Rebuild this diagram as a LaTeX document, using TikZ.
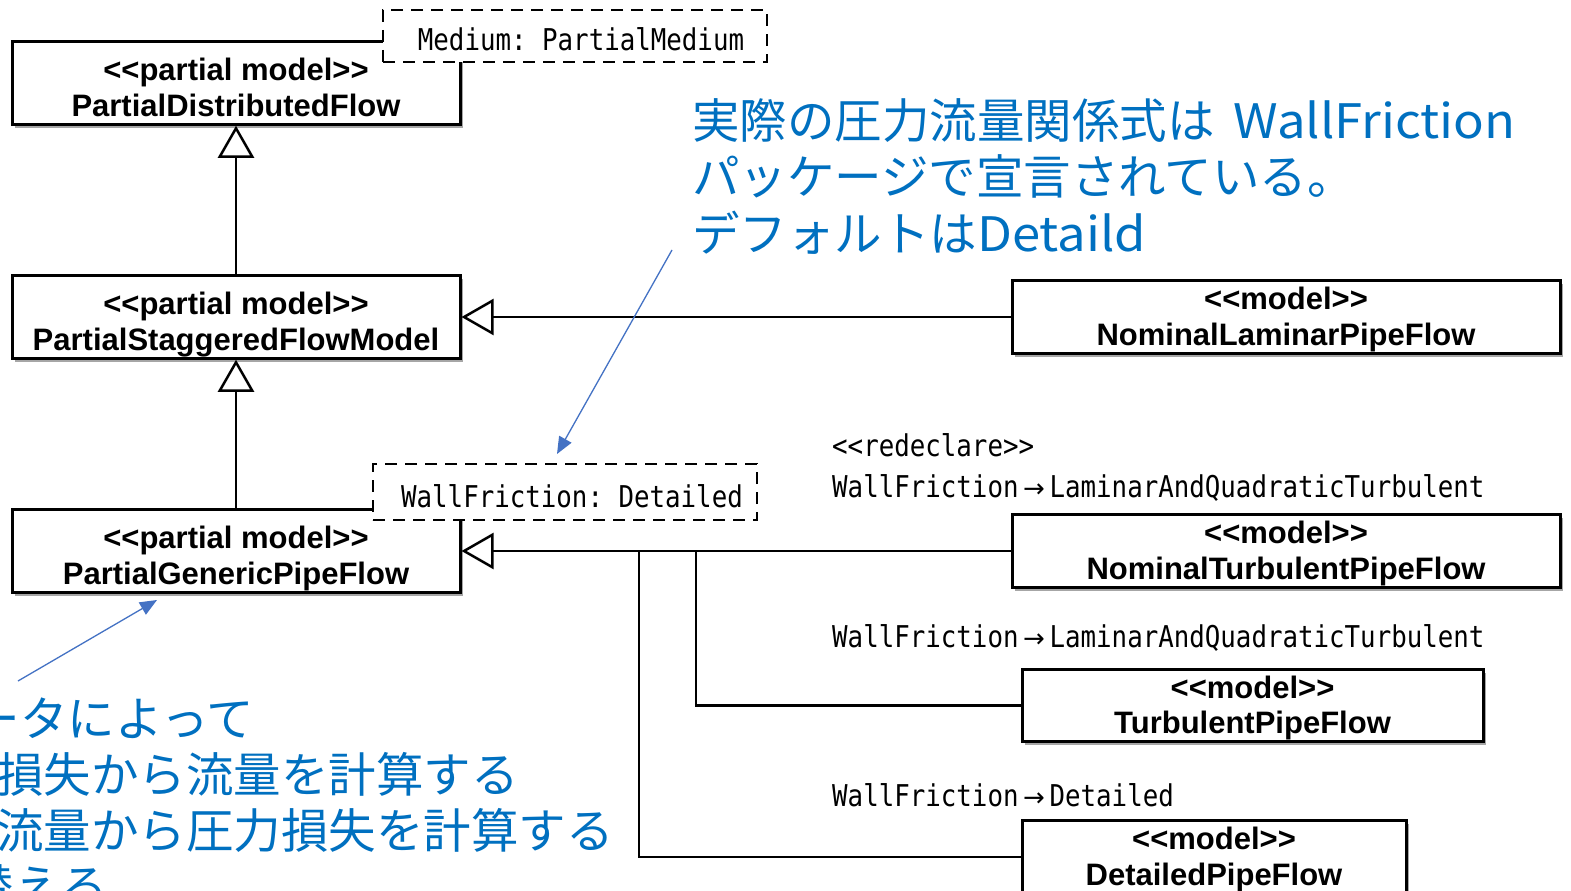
\documentclass[tikz,border=0pt]{standalone}
\usepackage{fontspec}
\setmainfont{Liberation Sans}
\newfontfamily\monofont[FakeStretch=0.86]{DejaVu Sans Mono}
\newfontfamily\arrowfont{DejaVu Sans}
\newfontfamily\jpfont{Noto Sans CJK JP}
\newfontfamily\jplat[FakeStretch=1.07]{Noto Sans CJK JP}
\usetikzlibrary{arrows.meta,shadows}
\definecolor{annot}{HTML}{0070C0}
\definecolor{arrowblue}{HTML}{4472C4}
\newcommand\monoarrow{\makebox[31pt]{\arrowfont\fontsize{26}{30}\selectfont →}}
\newcommand\partialtext[2]{\rule{0pt}{39pt}#1\\#2\rule[-8pt]{0pt}{8pt}}
\newcommand\modeltext[2]{\rule{0pt}{29pt}#1\\#2\rule[-8pt]{0pt}{8pt}}
\begin{document}
\begin{tikzpicture}[x=1pt,y=-1pt,
 umlbox/.style={draw, line width=3pt, fill=white, inner sep=0pt, align=center,
   font=\bfseries\fontsize{31}{35.5}\selectfont,
   drop shadow={shadow xshift=2.5pt, shadow yshift=-3.5pt, opacity=0.35, fill=black}},
 dashbox/.style={draw, line width=2.5pt, dash pattern=on 12pt off 8pt, fill=white,
   inner sep=0pt, text height=30pt, text depth=0pt,
   font=\monofont\fontsize{30}{35}\selectfont\frenchspacing},
 monolabel/.style={anchor=west, inner sep=0pt,
   font=\monofont\fontsize{30}{35}\selectfont\frenchspacing},
 inherit/.style={line width=2.5pt, -{Triangle[open, length=32pt, width=36pt]}},
 conn/.style={line width=2.5pt},
 note/.style={text=annot, inner sep=0pt, font=\jpfont\fontsize{47.5}{56}\selectfont},
 notearrow/.style={draw=arrowblue, line width=1.3pt, -{Triangle[length=17pt, width=14pt]}}
]
\fill[white] (0,0) rectangle (1571,891);
\useasboundingbox (0,0) rectangle (1571,891);
\clip (0,0) rectangle (1571,891);

% class boxes
\node[umlbox, minimum width=448pt, minimum height=82pt] (pdf) at (236,83)
  {\partialtext{<{}<partial model>{}>}{PartialDistributedFlow}};
\node[umlbox, minimum width=448pt, minimum height=80pt] (psfm) at (236,317)
  {\partialtext{<{}<partial model>{}>}{PartialStaggeredFlowModel}};
\node[umlbox, minimum width=448pt, minimum height=82pt] (pgpf) at (236,551)
  {\partialtext{<{}<partial model>{}>}{PartialGenericPipeFlow}};
\node[umlbox, minimum width=548pt, minimum height=68pt] (nlpf) at (1286,317)
  {\modeltext{<{}<model>{}>}{NominalLaminarPipeFlow}};
\node[umlbox, minimum width=548pt, minimum height=70pt] (ntpf) at (1286,551)
  {\modeltext{<{}<model>{}>}{NominalTurbulentPipeFlow}};
\node[umlbox, minimum width=461pt, minimum height=69pt] (tpf) at (1252.5,705.5)
  {\modeltext{<{}<model>{}>}{TurbulentPipeFlow}};
\node[umlbox, minimum width=384pt, minimum height=74pt] (dpf) at (1214,857)
  {\modeltext{<{}<model>{}>}{DetailedPipeFlow}};

% inheritance connectors
\draw[inherit] (psfm.north) -- (pdf.south);
\draw[inherit] (pgpf.north) -- (psfm.south);
\draw[inherit] (nlpf.west) -- (psfm.east);
\draw[inherit] (ntpf.west) -- (pgpf.east);
\coordinate (j1) at (696,551);
\coordinate (j2) at (639,551);
\draw[conn] (tpf.west) -| (j1);
\draw[conn] (dpf.west) -| (j2);

% dashed parameter boxes
\node[dashbox, minimum width=384pt, minimum height=52pt] (med) at (575,36)
  {\hspace*{12pt}Medium: PartialMedium};
\node[dashbox, minimum width=384pt, minimum height=56pt] (wf) at (565,492)
  {\hspace*{14pt}WallFriction: Detailed};

% redeclare labels
\node[monolabel] (redecl) at (832,445) {<{}<redeclare>{}>};
\node[monolabel] (lab1) at (832,488) {WallFriction\monoarrow LaminarAndQuadraticTurbulent};
\node[monolabel] (lab2) at (832,638) {WallFriction\monoarrow LaminarAndQuadraticTurbulent};
\node[monolabel] (lab3) at (832,795) {WallFriction\monoarrow Detailed};

% notes
\node[note, anchor=base west] (n1) at (692,138) {実際の圧力流量関係式は\hspace{8pt} {\jplat WallFriction}};
\node[note, anchor=base west] (n2) at (692,194) {パッケージで宣言されている。};
\node[note, anchor=base west] (n3) at (692,251) {デフォルトは{\jplat Detaild}};

\node[note, anchor=base east] (m1) at (254,736) {ータによって};
\node[note, anchor=base east] (m2) at (519,792) {損失から流量を計算する};
\node[note, anchor=base east] (m3) at (614,848) {流量から圧力損失を計算する};
\node[note, anchor=base east] (m4) at (108,904) {替える};

% note arrows
\coordinate (a1s) at (672,250);
\coordinate (a1e) at (557,454);
\draw[notearrow] (a1s) -- (a1e);
\coordinate (a2s) at (18,681);
\coordinate (a2e) at (157,600);
\draw[notearrow] (a2s) -- (a2e);
\end{tikzpicture}
\end{document}
